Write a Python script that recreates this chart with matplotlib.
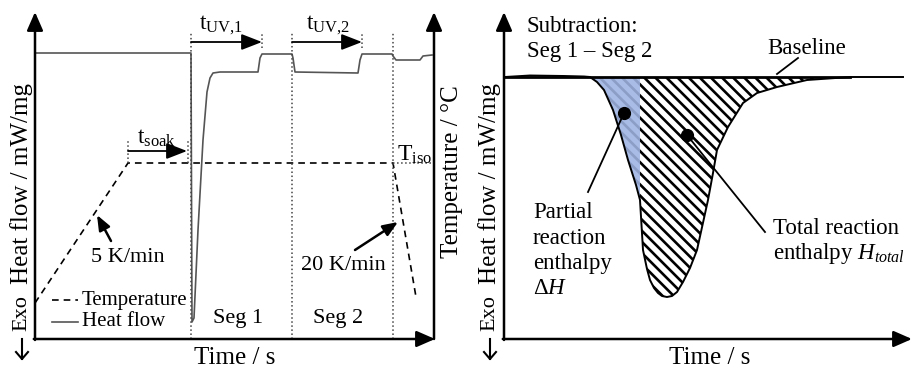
import numpy as np
import matplotlib.pyplot as plt

plt.rcParams['font.family'] = ['Liberation Serif', 'DejaVu Serif']
plt.rcParams['mathtext.fontset'] = 'custom'
plt.rcParams['mathtext.rm'] = 'Liberation Serif'
plt.rcParams['mathtext.it'] = 'Liberation Serif:italic'
plt.rcParams['hatch.linewidth'] = 1.9

# ---- left panel: DSC program (schematic units, time / heat flow) ----
hf_t = [0, 156, 157, 159, 163, 168, 172, 175, 178, 185, 223, 225, 227, 257, 258, 260,
        323, 325, 327, 357, 358, 361, 385, 388, 397]
hf_q = [286, 286, 17, 21, 109, 199, 247, 261, 266, 267, 267, 281, 285, 285, 281, 267,
        266, 279, 285, 285, 283, 279, 279, 283, 284]

temp_t = [0, 93, 358, 381]
temp_q = [36, 176, 176, 42]
t_iso = 176

seg_bounds = [156, 257, 358]
uv_ends = [227, 327]
soak = [93, 153]

# ---- right panel: subtracted curve ----
dsc_t = np.array([1, 26, 60, 80, 86, 93, 100, 109, 117, 124, 132, 136, 139, 143, 146, 150, 154,
                  158, 163, 168, 173, 179, 186, 193, 204, 209, 213, 224, 239, 253, 273, 303, 346, 399])
dsc_q = np.array([262, 263.5, 263, 262.5, 262, 257, 249, 229, 204, 179, 154, 139, 89, 70, 59, 51, 46,
                  43, 42, 43, 47, 57, 71, 89, 139, 166, 189, 212, 236, 246, 252, 259, 262, 262])
baseline_q = 262
t_partial = 136
baseline_end = 346

fig = plt.figure(figsize=(9.12, 3.69), dpi=100)
W, H = 912, 369


def fx(x):
    return x / W


def fy(y):
    return 1 - y / H


ax1 = fig.add_axes([fx(35), fy(339), 400 / W, 327 / H])
ax2 = fig.add_axes([fx(504), fy(339), 408 / W, 327 / H])
ax1.set_xlim(0, 400)
ax1.set_ylim(0, 327)
ax2.set_xlim(0, 408)
ax2.set_ylim(0, 327)
for ax in (ax1, ax2):
    ax.set_axis_off()

head = dict(arrowstyle='-|>,head_length=0.8,head_width=0.35', lw=1.8, color='black',
            shrinkA=0, shrinkB=0, mutation_scale=14)
# axis arrows
for ax in (ax1, ax2):
    ax.annotate('', xy=(0, 1), xytext=(0, -0.003), xycoords='axes fraction',
                arrowprops=head, annotation_clip=False)
    ax.annotate('', xy=(1, 0), xytext=(-0.003, 0), xycoords='axes fraction',
                arrowprops=head, annotation_clip=False)
ax1.annotate('', xy=(399, 327), xytext=(399, 0), arrowprops=head, annotation_clip=False)

# left: curves
ax1.plot(hf_t, hf_q, color='#555555', lw=1.2)
ax1.plot(temp_t, temp_q, color='black', lw=1.2, ls=(0, (4, 3)))
ax1.plot([temp_t[2], 399], [t_iso, t_iso], color='#444444', lw=1.1, ls=':')

for s in seg_bounds:
    ax1.plot([s, s], [0, 306], color='#444444', lw=1.1, ls=':')
for s in uv_ends:
    ax1.plot([s, s], [291, 306], color='#444444', lw=1.1, ls=':')
for s in soak:
    ax1.plot([s, s], [176, 199], color='#444444', lw=1.1, ls=':')

small = dict(arrowstyle='-|>,head_length=0.9,head_width=0.35', lw=1.3, color='black',
             shrinkA=0, shrinkB=0, mutation_scale=14)
ax1.annotate('', xy=(uv_ends[0], 297), xytext=(seg_bounds[0], 297), arrowprops=small)
ax1.annotate('', xy=(uv_ends[1], 297), xytext=(seg_bounds[1], 297), arrowprops=small)
ax1.annotate('', xy=(soak[1] - 1, 188), xytext=(soak[0], 188), arrowprops=small)

fs = 16.5
fl = 18
ax1.text(186, 314, r'$\mathrm{t}_{\mathrm{UV{,}1}}$', fontsize=17, ha='center', va='center')
ax1.text(293, 314, r'$\mathrm{t}_{\mathrm{UV{,}2}}$', fontsize=17, ha='center', va='center')
ax1.text(122, 201, r'$\mathrm{t}_{\mathrm{soak}}$', fontsize=17, ha='center', va='center')
ax1.text(380, 184, r'$\mathrm{T}_{\mathrm{iso}}$', fontsize=17, ha='center', va='center')

rate = dict(arrowstyle='-|>,head_length=1.0,head_width=0.4', lw=1.8, color='black',
            shrinkA=0, shrinkB=0, mutation_scale=9)
ax1.annotate('', xy=(62, 124), xytext=(76, 98), arrowprops=rate)
ax1.annotate('', xy=(363, 117), xytext=(320, 89), arrowprops=rate)
ax1.text(93, 82, '5 K/min', fontsize=16, ha='center', va='center')
ax1.text(308, 74, '20 K/min', fontsize=16, ha='center', va='center')

# legend
ax1.plot([17, 43], [39, 39], color='black', lw=1.2, ls=(0, (4, 3)))
ax1.plot([17, 43], [17, 17], color='#555555', lw=1.2)
ax1.text(47, 39, 'Temperature', fontsize=15, va='center')
ax1.text(47, 17, 'Heat flow', fontsize=15, va='center')

ax1.text(203, 21, 'Seg 1', fontsize=16, ha='center', va='center')
ax1.text(303, 21, 'Seg 2', fontsize=16, ha='center', va='center')

# right: subtracted curve
part = dsc_t <= t_partial
ax2.fill_between(dsc_t, dsc_q, baseline_q, where=part, facecolor='#a8bce6',
                 edgecolor='#8c9dc6', hatch='\\\\\\', lw=0)
rest = (dsc_t >= t_partial) & (dsc_t <= baseline_end)
ax2.fill_between(dsc_t, dsc_q, baseline_q, where=rest, facecolor='white',
                 edgecolor='black', hatch='\\\\\\', lw=0)
ax2.plot(dsc_t, dsc_q, color='black', lw=1.4)
ax2.plot([1, baseline_end], [baseline_q, baseline_q], color='black', lw=2.0)

ax2.plot([120, 84], [226, 147], color='black', lw=1.3)
ax2.plot([183, 261], [204, 107], color='black', lw=1.3)
ax2.plot([120, 183], [226, 204], 'o', color='black', ms=8.5)
ax2.plot([294, 273], [281, 265], color='black', lw=1.3)

ax2.text(23, 312, 'Subtraction:', fontsize=fs, va='center')
ax2.text(23, 287, 'Seg 1 – Seg 2', fontsize=fs, va='center')
ax2.text(303, 291, 'Baseline', fontsize=fs, ha='center', va='center')
for q, s in zip([127, 101, 76, 50], ['Partial', 'reaction', 'enthalpy', r'$\mathrm{\Delta}H$']):
    ax2.text(29, q, s, fontsize=fs, va='center')
ax2.text(269, 111, 'Total reaction', fontsize=fs, va='center')
ax2.text(269, 86, r'enthalpy $H_{total}$', fontsize=fs, va='center')

# axis titles
for x0 in (22, 490):
    fig.text(fx(x0), fy(184), 'Heat flow / mW/mg', fontsize=fl, rotation=90,
             ha='center', va='center')
    fig.text(fx(x0), fy(313), 'Exo', fontsize=16, rotation=90, ha='center', va='center')
    fig.add_artist(plt.Line2D([fx(x0)] * 2, [fy(339), fy(359)], color='black', lw=1.5))
    fig.add_artist(plt.Line2D([fx(x0 - 6), fx(x0), fx(x0 + 6)], [fy(352), fy(359), fy(352)],
                              color='black', lw=1.5))
fig.text(fx(452), fy(172), 'Temperature / °C', fontsize=fl, rotation=90,
         ha='center', va='center')
fig.text(fx(235), fy(358), 'Time / s', fontsize=fl, ha='center', va='center')
fig.text(fx(710), fy(358), 'Time / s', fontsize=fl, ha='center', va='center')

fig.savefig('out.png', dpi=100)
